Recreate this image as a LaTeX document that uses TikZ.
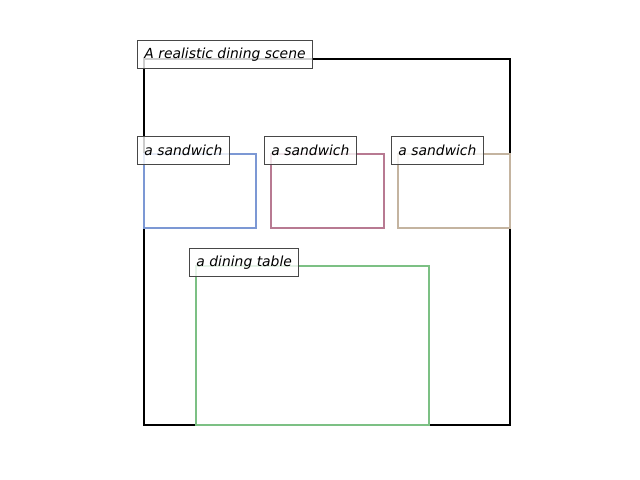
\documentclass[tikz,border=0pt]{standalone}
\usepackage{fontspec}
\setmainfont{DejaVu Sans}
\begin{document}
\begin{tikzpicture}[x=0.72bp,y=-0.72bp,
  lbl/.style={draw=black!72, line width=0.75bp, fill=white, fill opacity=0.8, text opacity=1,
    anchor=west, inner xsep=5bp, inner ysep=0pt, minimum height=20bp, font=\fontsize{10bp}{12bp}\selectfont\itshape},
  bbox/.style={line width=2.1bp}]
\definecolor{cblue}{RGB}{124,152,212}
\definecolor{cred}{RGB}{184,122,146}
\definecolor{ctan}{RGB}{196,180,160}
\definecolor{cgreen}{RGB}{124,192,132}
\useasboundingbox (0,0) rectangle (640,480);
\draw[bbox, black] (144,59) rectangle (510,425);
\draw[bbox, cblue] (144,154) rectangle (256,228);
\draw[bbox, cred] (271,154) rectangle (384,228);
\draw[bbox, ctan] (398,154) rectangle (510,228);
\draw[bbox, cgreen] (196,266) rectangle (429,425);
\node[lbl] (scene) at (137,54.3) {A realistic dining scene};
\node[lbl] (s1) at (137,150.3) {a sandwich};
\node[lbl] (s2) at (264,150.3) {a sandwich};
\node[lbl] (s3) at (391,150.3) {a sandwich};
\node[lbl] (tab) at (189,262.3) {a dining table};
\end{tikzpicture}
\end{document}
